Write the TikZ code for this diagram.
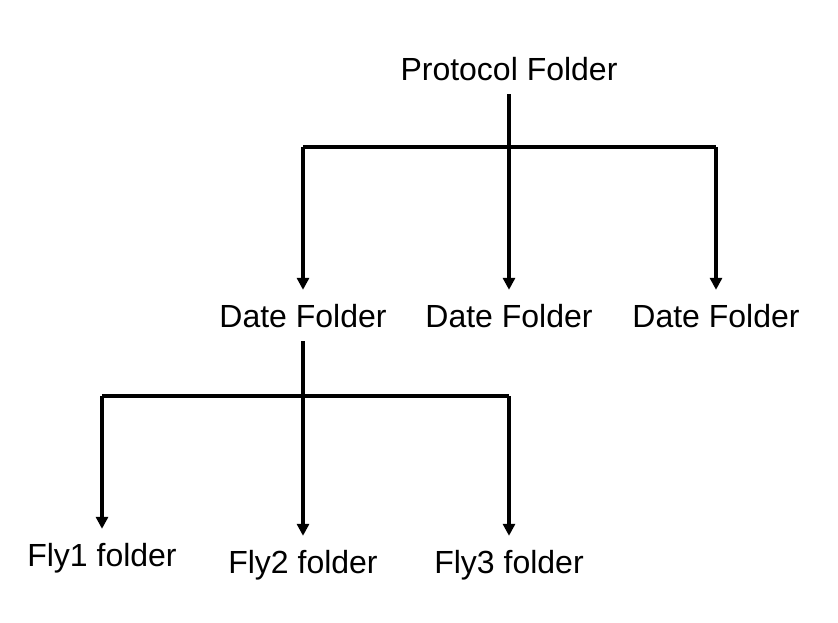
\documentclass[tikz,border=0pt]{standalone}
\usepackage{fontspec}
\setmainfont{Liberation Sans}
\usetikzlibrary{arrows.meta}
\begin{document}
\begin{tikzpicture}[x=0.75pt,y=-0.75pt,
  folder/.style={anchor=base,inner sep=0pt,outer ysep=10.5pt,font=\fontsize{24}{28}\selectfont},
  link/.style={line width=2.3pt},
  branch/.style={link,-{Triangle[width=9pt,length=9pt]}}]
  \useasboundingbox (0,0) rectangle (838,622);
  \node[folder] (proto) at (509,80) {Protocol Folder};
  \foreach \x/\n in {303/1,509/2,716/3}
    \node[folder] (date\n) at (\x,327) {Date Folder};
  \node[folder] (fly1) at (102,566) {Fly1 folder};
  \node[folder] (fly2) at (303,573) {Fly2 folder};
  \node[folder] (fly3) at (509,573) {Fly3 folder};
  \coordinate (busA) at (509,147);
  \coordinate (busB) at (303,396);
  % protocol to dates
  \draw[branch] (proto) -- (date2);
  \draw[link] (date1 |- busA) -- (date3 |- busA);
  \draw[branch] (date1 |- busA) -- (date1);
  \draw[branch] (date3 |- busA) -- (date3);
  % first date to flies
  \draw[branch] (date1) -- (fly2);
  \draw[link] (fly1 |- busB) -- (fly3 |- busB);
  \draw[branch] (fly1 |- busB) -- (fly1);
  \draw[branch] (fly3 |- busB) -- (fly3);
\end{tikzpicture}
\end{document}
